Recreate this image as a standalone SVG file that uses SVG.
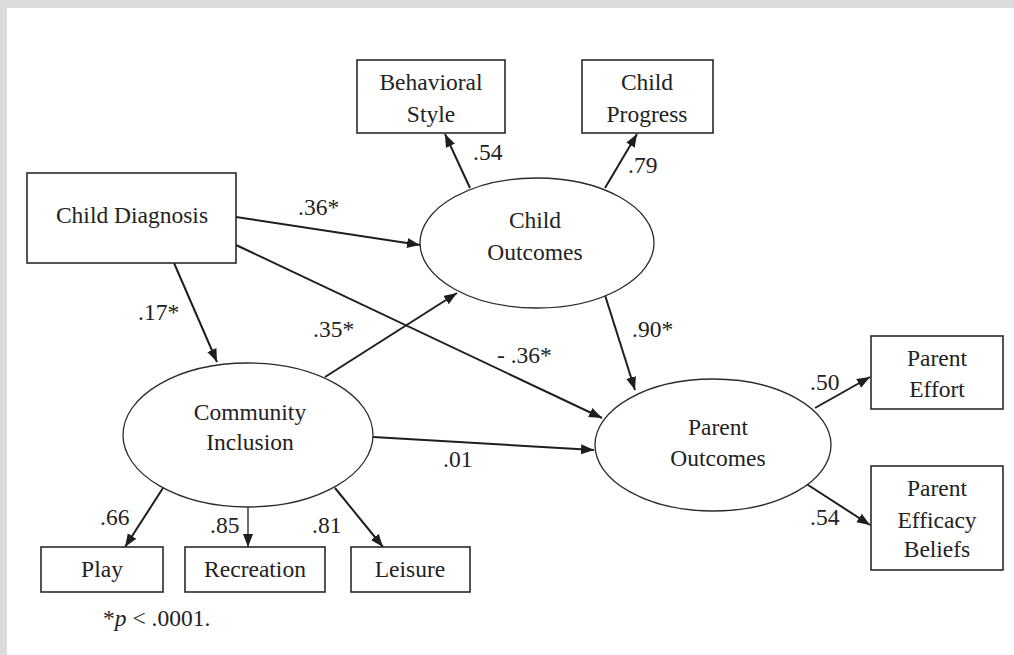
<svg xmlns="http://www.w3.org/2000/svg" width="1014" height="655" viewBox="0 0 1014 655">
<defs>
<marker id="ah" markerUnits="userSpaceOnUse" markerWidth="14" markerHeight="12" refX="13" refY="5" orient="auto">
<path d="M0,0 L13,5 L0,10 Z" fill="#1e1e1e"/>
</marker>
<style>
.box{fill:#fff;stroke:#2a2a2a;stroke-width:1.6}
.ell{fill:#fff;stroke:#2a2a2a;stroke-width:1.3}
.t{font-family:"Liberation Serif","Times New Roman",serif;font-size:23.5px;fill:#222;text-anchor:middle}
.l{font-family:"Liberation Serif","Times New Roman",serif;font-size:23.5px;fill:#222}
.c{stroke:#1e1e1e;stroke-width:2;fill:none;marker-end:url(#ah)}
.thin{stroke-width:1.3}
</style>
</defs>
<rect x="0" y="0" width="1014" height="655" fill="#dcdcdc"/>
<rect x="7" y="8" width="1007" height="647" fill="#fff"/>

<g id="connectors">
<line class="c" x1="236" y1="217" x2="420" y2="245"/>
<line class="c" x1="236" y1="245" x2="602" y2="418"/>
<line class="c" x1="174" y1="263" x2="217" y2="362"/>
<line class="c" x1="325" y1="377" x2="457" y2="293"/>
<line class="c" x1="373" y1="437" x2="594" y2="450"/>
<line class="c" x1="604" y1="292" x2="635" y2="390"/>
<line class="c" x1="470" y1="188" x2="445" y2="134"/>
<line class="c" x1="605" y1="188" x2="637" y2="134"/>
<line class="c" x1="163" y1="488" x2="125" y2="547"/>
<line class="c thin" x1="248" y1="507" x2="248" y2="547"/>
<line class="c" x1="335" y1="488" x2="383" y2="547"/>
<line class="c" x1="815" y1="408" x2="870" y2="377"/>
<line class="c" x1="805" y1="483" x2="870" y2="525"/>
<text class="l" x="298" y="215">.36*</text>
<text class="l" x="138" y="320">.17*</text>
<text class="l" x="313" y="337">.35*</text>
<text class="l" x="497" y="363">- .36*</text>
<text class="l" x="632" y="337">.90*</text>
<text class="l" x="473" y="160">.54</text>
<text class="l" x="628" y="173">.79</text>
<text class="l" x="100" y="525">.66</text>
<text class="l" x="210" y="533">.85</text>
<text class="l" x="312" y="533">.81</text>
<text class="l" x="443" y="467">.01</text>
<text class="l" x="810" y="390">.50</text>
<text class="l" x="810" y="525">.54</text>
</g>

<g id="child-diagnosis">
<rect class="box" x="27" y="173" width="209" height="90"/>
<text class="t" x="132" y="223">Child Diagnosis</text>
</g>
<g id="behavioral-style">
<rect class="box" x="357" y="60" width="148" height="73"/>
<text class="t" x="431" y="90">Behavioral</text>
<text class="t" x="431" y="122">Style</text>
</g>
<g id="child-progress">
<rect class="box" x="582" y="60" width="131" height="73"/>
<text class="t" x="647" y="90">Child</text>
<text class="t" x="647" y="122">Progress</text>
</g>
<g id="child-outcomes">
<ellipse class="ell" cx="537" cy="243" rx="117" ry="65"/>
<text class="t" x="535" y="228">Child</text>
<text class="t" x="535" y="260">Outcomes</text>
</g>
<g id="community-inclusion">
<ellipse class="ell" cx="248" cy="435" rx="125" ry="72"/>
<text class="t" x="250" y="420">Community</text>
<text class="t" x="250" y="450">Inclusion</text>
</g>
<g id="parent-outcomes">
<ellipse class="ell" cx="713" cy="445" rx="118" ry="66"/>
<text class="t" x="718" y="435">Parent</text>
<text class="t" x="718" y="466">Outcomes</text>
</g>
<g id="parent-effort">
<rect class="box" x="871" y="336" width="132" height="73"/>
<text class="t" x="937" y="366">Parent</text>
<text class="t" x="937" y="397">Effort</text>
</g>
<g id="parent-efficacy">
<rect class="box" x="871" y="466" width="132" height="104"/>
<text class="t" x="937" y="496">Parent</text>
<text class="t" x="937" y="528">Efficacy</text>
<text class="t" x="937" y="557">Beliefs</text>
</g>
<g id="play">
<rect class="box" x="41" y="547" width="122" height="45"/>
<text class="t" x="102" y="577">Play</text>
</g>
<g id="recreation">
<rect class="box" x="185" y="547" width="140" height="45"/>
<text class="t" x="255" y="577">Recreation</text>
</g>
<g id="leisure">
<rect class="box" x="351" y="547" width="119" height="45"/>
<text class="t" x="410" y="577">Leisure</text>
</g>
<text class="l" x="103" y="626">*<tspan font-style="italic">p</tspan> &lt; .0001.</text>
</svg>
